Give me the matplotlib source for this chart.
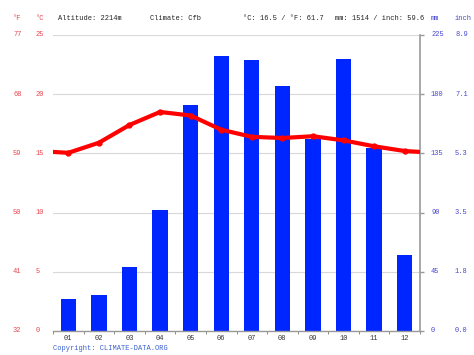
import matplotlib
matplotlib.use('Agg')
import matplotlib.pyplot as plt
import matplotlib.transforms as mtransforms
import numpy as np

months = ['01', '02', '03', '04', '05', '06', '07', '08', '09', '10', '11', '12']
temp_c = [15.05, 15.9, 17.4, 18.5, 18.2, 17.0, 16.4, 16.3, 16.45, 16.1, 15.6, 15.2]
precip_mm = [24, 27, 49, 92, 172, 209, 206, 186, 146, 207, 139, 58]

c_ticks = [0, 5, 10, 15, 20, 25]
f_labels = ['32', '41', '50', '59', '68', '77']
mm_ticks = [0, 45, 90, 135, 180, 225]
inch_labels = ['0.0', '1.8', '3.5', '5.3', '7.1', '8.9']

header = ['Altitude: 2214m', 'Climate: Cfb', '°C: 16.5 / °F: 61.7', 'mm: 1514 / inch: 59.6']

W, H = 474, 355
L, R, T, B = 53, 420, 35, 331
red_lbl = '#e8474f'
blue_lbl = '#4646d0'
font = 'Liberation Mono'
fs = 5.0

fig = plt.figure(figsize=(W / 100, H / 100), dpi=100)
ax = fig.add_axes([L / W, (H - B) / H, (R - L) / W, (B - T) / H])
ax2 = ax.twinx()
ax.set_zorder(ax2.get_zorder() + 1)
ax.patch.set_visible(False)

x = np.arange(len(months))
ax2.bar(x, precip_mm, width=0.5, color='#0026ff', zorder=2)
ax2.set_ylim(0, 225)

# wrap Dec/Jan at the edges so the line runs to the plot border
xl = np.concatenate([[-1], x, [12]])
yl = [temp_c[-1]] + temp_c + [temp_c[0]]
ax.plot(xl, yl, color='#ff0000', lw=3, marker='o', ms=3.5, solid_capstyle='round', zorder=5)
ax.set_ylim(0, 25)
ax.set_xlim(-0.5, 11.5)

for a in (ax, ax2):
    for s in ['top', 'left']:
        a.spines[s].set_visible(False)
ax.spines['right'].set_visible(False)
ax2.spines['right'].set_color('#999999')
ax2.spines['right'].set_linewidth(1.2)
ax2.spines['bottom'].set_visible(False)

ax2.set_yticks(mm_ticks)
ax2.set_yticklabels([])
ax2.tick_params(axis='y', length=3, color='#999999', direction='out', width=1)
ax.set_yticks(c_ticks)
ax.set_yticklabels([])
ax.tick_params(axis='y', length=0)
ax2.yaxis.grid(True, color='#d8d8d8', lw=0.8)
ax2.set_axisbelow(True)

ax.set_xticks(x)
ax.set_xticklabels(months, fontsize=fs, family=font, color='#333333')
ax.tick_params(axis='x', length=0, pad=3)
ax.set_xticks(np.arange(-0.5, 12, 1), minor=True)
ax.tick_params(axis='x', which='minor', length=2, color='#777777')
ax.spines['bottom'].set_color('#999999')
ax.spines['bottom'].set_linewidth(1)

# side labels
tr = mtransforms.blended_transform_factory(fig.transFigure, ax.transData)
for c, f in zip(c_ticks, f_labels):
    fig.text(13 / W, c, f, transform=tr, color=red_lbl, fontsize=fs, family=font, va='center')
    fig.text(36 / W, c, str(c), transform=tr, color=red_lbl, fontsize=fs, family=font, va='center')
tr2 = mtransforms.blended_transform_factory(fig.transFigure, ax2.transData)
for m, i in zip(mm_ticks, inch_labels):
    fig.text(431 / W, m, str(m), transform=tr2, color=blue_lbl, fontsize=fs, family=font, va='center')
    fig.text(455 / W, m, i, transform=tr2, color=blue_lbl, fontsize=fs, family=font, va='center')

hy = 1 - 18 / H
fig.text(13 / W, hy, '°F', color=red_lbl, fontsize=fs, family=font, va='center')
fig.text(36 / W, hy, '°C', color=red_lbl, fontsize=fs, family=font, va='center')
for xp, t in zip([58, 150, 243, 335], header):
    fig.text(xp / W, hy, t, color='#222222', fontsize=fs, family=font, va='center')
fig.text(431 / W, hy, 'mm', color=blue_lbl, fontsize=fs, family=font, va='center')
fig.text(455 / W, hy, 'inch', color=blue_lbl, fontsize=fs, family=font, va='center')
fig.text(53 / W, 1 - 348 / H, 'Copyright: CLIMATE-DATA.ORG', color='#3a5fcd', fontsize=fs, family=font, va='center')

fig.savefig('out.png', dpi=100)
